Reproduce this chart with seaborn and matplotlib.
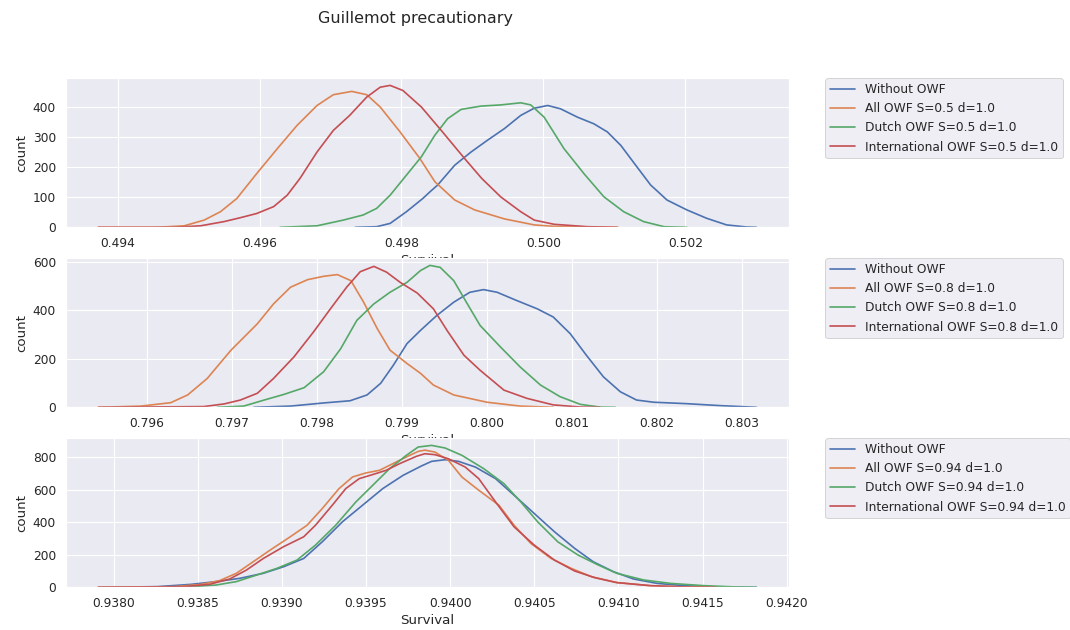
import numpy as np
import pandas as pd
import matplotlib
matplotlib.use("Agg")
import matplotlib.pyplot as plt
import seaborn as sns

# ---------------- data ----------------
title = "Guillemot precautionary"
series_base = ["Without OWF", "All OWF", "Dutch OWF", "International OWF"]
s_values = ["0.5", "0.8", "0.94"]

# Panel 1 (S=0.5)
p1_without_x = [0.49735, 0.49765, 0.49784, 0.49807, 0.4983, 0.4984, 0.49851, 0.49875, 0.49898, 0.49921,
                0.49945, 0.49968, 0.49987, 0.50006, 0.50024, 0.50048, 0.50071, 0.5009, 0.50109, 0.50128,
                0.50151, 0.50174, 0.50202, 0.5023, 0.50258, 0.50286, 0.50300]
p1_without_y = [0, 2, 13, 52, 96, 118, 141, 207, 251, 290,
                329, 373, 397, 406, 395, 367, 345, 318, 273, 213,
                141, 91, 58, 30, 8, 1, 0]
p1_all_x = [0.49373, 0.49456, 0.49494, 0.49522, 0.49545, 0.49568, 0.49596, 0.49625, 0.49653, 0.49681,
            0.49704, 0.4973, 0.49751, 0.4977, 0.49798, 0.49826, 0.49847, 0.49875, 0.49903, 0.49945,
            0.49987, 0.50015, 0.50060, 0.50105]
p1_all_y = [0, 0, 5, 24, 52, 96, 179, 262, 340, 406,
            442, 453, 442, 401, 318, 229, 152, 91, 58, 28,
            8, 3, 1, 0]
p1_dutch_x = [0.49629, 0.49681, 0.49718, 0.49746, 0.49765, 0.49784, 0.49807, 0.49828, 0.49847, 0.49865,
              0.49884, 0.49912, 0.4994, 0.49968, 0.49982, 0.50001, 0.50029, 0.50057, 0.50085, 0.50113,
              0.50141, 0.5017, 0.50202]
p1_dutch_y = [0, 5, 24, 41, 63, 107, 174, 235, 307, 362,
              393, 404, 408, 415, 408, 367, 262, 179, 102, 52,
              19, 2, 0]
p1_intl_x = [0.49373, 0.4948, 0.49517, 0.4955, 0.49573, 0.49596, 0.4962, 0.49639, 0.49657, 0.49681,
             0.49704, 0.49727, 0.49751, 0.4977, 0.49784, 0.49802, 0.49828, 0.49856, 0.49889, 0.49913,
             0.4994, 0.49968, 0.49987, 0.50015, 0.50062, 0.50104]
p1_intl_y = [0, 0, 5, 19, 32, 46, 69, 107, 163, 251,
             323, 373, 434, 467, 473, 456, 401, 323, 229, 163,
             101, 52, 24, 10, 2, 0]

# Panel 2 (S=0.8)
p2_without_x = [0.79726, 0.79769, 0.79808, 0.79839, 0.79859, 0.79875, 0.7989, 0.79906, 0.79922, 0.79941,
                0.79961, 0.7998, 0.79996, 0.80012, 0.80035, 0.80059, 0.80078, 0.80098, 0.80117, 0.80137,
                0.80157, 0.80176, 0.80196, 0.80235, 0.80274, 0.80317]
p2_without_y = [0, 5, 18, 27, 51, 99, 174, 263, 318, 379,
                434, 475, 486, 475, 441, 407, 373, 304, 215, 126,
                64, 30, 21, 15, 7, 0]
p2_all_x = [0.79543, 0.79593, 0.79628, 0.79648, 0.79671, 0.79699, 0.7973, 0.79749, 0.79769, 0.79789,
            0.79808, 0.79824, 0.7984, 0.79855, 0.79871, 0.79886, 0.79906, 0.79922, 0.79937, 0.79961,
            0.8, 0.80039, 0.80078]
p2_all_y = [0, 5, 19, 51, 119, 236, 345, 427, 496, 527,
            541, 548, 523, 434, 325, 236, 181, 140, 92, 51,
            21, 5, 0]
p2_dutch_x = [0.79683, 0.79714, 0.79738, 0.79761, 0.79785, 0.79808, 0.79828, 0.79847, 0.79867, 0.79886,
              0.79906, 0.79922, 0.79933, 0.79945, 0.79961, 0.79977, 0.79992, 0.80016, 0.80039, 0.80063,
              0.80086, 0.8011, 0.80133, 0.80151]
p2_dutch_y = [0, 5, 30, 53, 81, 147, 242, 359, 427, 475,
              516, 565, 586, 578, 523, 427, 338, 249, 167, 92,
              44, 12, 1, 0]
p2_intl_x = [0.79543, 0.79667, 0.79691, 0.7971, 0.7973, 0.79749, 0.79773, 0.79796, 0.79816, 0.79835,
             0.79851, 0.79867, 0.79882, 0.79898, 0.79918, 0.79937, 0.79953, 0.79973, 0.79992, 0.8002,
             0.80047, 0.80078, 0.8011, 0.80133]
p2_intl_y = [0, 3, 14, 30, 58, 119, 208, 311, 407, 496,
             560, 582, 558, 516, 472, 407, 318, 215, 153, 71,
             37, 10, 1, 0]

# Panel 3 (S=0.94)
p3_without_x = [0.93791, 0.93826, 0.93846, 0.93861, 0.93875, 0.93889, 0.93901, 0.93913, 0.93924, 0.93936,
                0.93948, 0.9396, 0.93972, 0.93983, 0.93989, 0.93997, 0.94005, 0.94015, 0.94027, 0.94038,
                0.9405, 0.94062, 0.94074, 0.94085, 0.94097, 0.94109, 0.94123, 0.94139, 0.94158, 0.94182]
p3_without_y = [0, 4, 18, 35, 55, 86, 126, 177, 279, 402,
                504, 606, 687, 745, 773, 783, 773, 738, 667, 565,
                453, 341, 239, 157, 96, 51, 24, 10, 2, 0]
p3_all_x = [0.93791, 0.93836, 0.93852, 0.93863, 0.93873, 0.93883, 0.93893, 0.93905, 0.93915, 0.93924,
            0.93934, 0.93942, 0.9395, 0.93958, 0.93966, 0.93974, 0.93981, 0.93985, 0.93991, 0.93999,
            0.94007, 0.94017, 0.94029, 0.94038, 0.94048, 0.9406, 0.94072, 0.94084, 0.94099, 0.94119,
            0.94139, 0.94158]
p3_all_y = [0, 4, 18, 41, 86, 157, 228, 310, 381, 483,
            606, 677, 702, 718, 759, 800, 834, 842, 830, 779,
            677, 596, 504, 381, 269, 177, 116, 65, 29, 10,
            2, 0]
p3_dutch_x = [0.93826, 0.93846, 0.93861, 0.93873, 0.93885, 0.93897, 0.93909, 0.9392, 0.93932, 0.93944,
              0.93954, 0.93964, 0.93974, 0.93981, 0.93989, 0.93997, 0.94007, 0.9402, 0.94032, 0.94042,
              0.94052, 0.94064, 0.94076, 0.94088, 0.94099, 0.94115, 0.94131, 0.94151, 0.9417, 0.94182]
p3_dutch_y = [0, 4, 14, 35, 75, 116, 167, 259, 381, 524,
              626, 728, 810, 861, 871, 855, 810, 728, 636, 524,
              402, 279, 198, 137, 86, 45, 24, 10, 2, 0]
p3_intl_x = [0.93791, 0.93842, 0.93857, 0.93869, 0.93879, 0.93889, 0.93901, 0.93913, 0.9392, 0.9393,
             0.93938, 0.93946, 0.93954, 0.93962, 0.9397, 0.9398, 0.93985, 0.93991, 0.93999, 0.94009,
             0.94017, 0.94027, 0.94038, 0.9405, 0.94062, 0.94074, 0.94086, 0.94099, 0.94119, 0.94139,
             0.94158]
p3_intl_y = [0, 4, 18, 51, 106, 177, 249, 310, 381, 504,
             606, 667, 692, 718, 759, 804, 820, 814, 789, 738,
             667, 524, 371, 259, 167, 100, 59, 29, 10, 2,
             0]

panels = [
    [(p1_without_x, p1_without_y), (p1_all_x, p1_all_y), (p1_dutch_x, p1_dutch_y), (p1_intl_x, p1_intl_y)],
    [(p2_without_x, p2_without_y), (p2_all_x, p2_all_y), (p2_dutch_x, p2_dutch_y), (p2_intl_x, p2_intl_y)],
    [(p3_without_x, p3_without_y), (p3_all_x, p3_all_y), (p3_dutch_x, p3_dutch_y), (p3_intl_x, p3_intl_y)],
]

# ---------------- plotting ----------------
SCALE = 80 / 72
sns.set_theme(style="darkgrid", font_scale=SCALE)
plt.rcParams['font.family'] = ['DejaVu Sans']
plt.rcParams['grid.linewidth'] = 1.0 * SCALE

DPI = 72
fig = plt.figure(figsize=(1070 / DPI, 630 / DPI), dpi=DPI)

W, H = 1070, 630
left, right = 65.5, 789.3
boxes = [(78.3, 227.3), (258.3, 407.3), (438.3, 587.3)]
palette = sns.color_palette("deep", 4)

for i, (s, curves) in enumerate(zip(s_values, panels)):
    top, bottom = boxes[i]
    ax = fig.add_axes([left / W, 1 - bottom / H, (right - left) / W, (bottom - top) / H])
    labels = ["Without OWF"] + [f"{b} S={s} d=1.0" for b in series_base[1:]]
    frames = []
    for lab, (xs, ys) in zip(labels, curves):
        frames.append(pd.DataFrame({"Survival": xs, "count": ys, "series": lab}))
    df = pd.concat(frames, ignore_index=True)
    sns.lineplot(data=df, x="Survival", y="count", hue="series", hue_order=labels,
                 palette=palette, estimator=None, sort=True, linewidth=1.5 * SCALE, ax=ax)
    ymax = df["count"].max() * 1.05
    ax.set_ylim(0, ymax)
    ax.ticklabel_format(axis="x", useOffset=False)
    ax.set_xlabel("Survival")
    ax.set_ylabel("count")
    sns.move_legend(ax, "upper left", bbox_to_anchor=(1.05, 1), borderaxespad=0, title=None)

fig.suptitle(title, x=415 / W, y=1 - 18 / H, va="center", fontsize=16)

fig.savefig("out.png", dpi=DPI)
